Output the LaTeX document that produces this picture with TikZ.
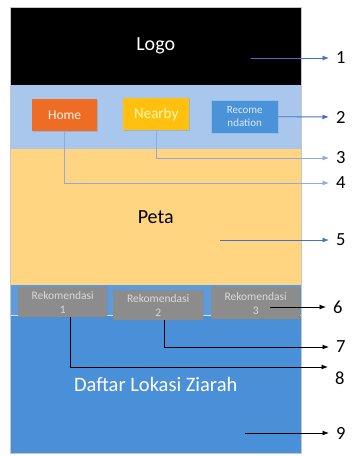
\documentclass[tikz,border=0pt]{standalone}
\usepackage{fontspec}
\setmainfont{Carlito}
\usetikzlibrary{shadows,arrows.meta}
\definecolor{navband}{HTML}{A9C7EC}
\definecolor{mapfill}{HTML}{FFD581}
\definecolor{listblue}{HTML}{4A90D9}
\definecolor{homeorange}{HTML}{EF6C25}
\definecolor{nearbyyellow}{HTML}{FFC010}
\definecolor{recblue}{HTML}{4B93D8}
\definecolor{tabgrey}{HTML}{8C8C8C}
\definecolor{darkarrow}{HTML}{4472C4}
\definecolor{lightarrow}{HTML}{8FAADC}
\begin{document}
\begin{tikzpicture}[x=1pt,y=-1pt,
  panel/.style={rectangle, inner sep=0pt, anchor=north west},
  btn/.style={rectangle, inner sep=0pt, anchor=north west,
    drop shadow={opacity=0.3, shadow xshift=0.8pt, shadow yshift=-1.2pt}},
  tab/.style={btn, fill=tabgrey, text=white!85!black, align=center,
    minimum height=30pt, font=\fontsize{11.5}{14}\selectfont},
  callout/.style={-{Latex[length=6.5pt,width=5pt]}, line width=0.9pt, shorten >=7pt},
  num/.style={anchor=west, inner sep=0pt, font=\fontsize{18.5}{18}\selectfont}]
\fill[white] (0,0) rectangle (357,456);
\useasboundingbox (0,0) rectangle (357,456);

% screen regions
\node[panel, fill=black, minimum width=291pt, minimum height=78pt, text=white,
  font=\fontsize{20}{24}\selectfont] (logo) at (10,7) {Logo};
\node[panel, fill=navband, minimum width=291pt, minimum height=64pt] (nav) at (10,85) {};
\node[panel, fill=mapfill, minimum width=291pt, minimum height=136pt,
  font=\fontsize{20}{24}\selectfont] (peta) at (10,149) {\raisebox{-3pt}{Peta}};
\node[panel, fill=listblue!90!white, minimum width=291pt, minimum height=30pt] (tabband) at (10,285) {};
\node[panel, fill=listblue, minimum width=291pt, minimum height=138pt, text=white,
  font=\fontsize{20.5}{24}\selectfont] (daftar) at (10,315) {\raisebox{-4pt}{Daftar Lokasi Ziarah}};
\draw[white!75!listblue, line width=1pt] (tabband.south west) -- (tabband.south east);
\draw[gray!45, line width=0.6pt] (logo.north west) rectangle (daftar.south east);

% navigation buttons
\node[btn, fill=homeorange, text=white!92!orange, minimum width=65pt, minimum height=32pt,
  font=\fontsize{13.5}{16}\selectfont] (home) at (32,99) {Home};
\node[btn, fill=nearbyyellow, text=yellow!30!white, minimum width=66pt, minimum height=32pt,
  font=\fontsize{15}{18}\selectfont] (nearby) at (123,98) {Nearby};
\node[btn, fill=recblue, draw=recblue!60!white, text=white!80!recblue, minimum width=67pt,
  minimum height=33pt, align=center, font=\fontsize{11}{13}\selectfont] (rec) at (211,100) {Recome\\ndation};

% recommendation tabs
\node[tab, minimum width=89pt] (rek1) at (18,287) {Rekomendasi\\1};
\node[tab, minimum width=90pt] (rek2) at (113,290) {Rekomendasi\\2};
\node[tab, minimum width=89pt, minimum height=32pt] (rek3) at (211,287) {Rekomendasi\\3};

% callout numbers
\node[num] (l1) at (336,58) {1};
\node[num] (l2) at (336,117) {2};
\node[num] (l3) at (336,158) {3};
\node[num] (l4) at (336,183) {4};
\node[num] (l5) at (336,240) {5};
\node[num] (l6) at (333,307) {6};
\node[num] (l7) at (336,347) {7};
\node[num] (l8) at (335,378) {8};
\node[num] (l9) at (336,433) {9};

% callout start and end points
\coordinate (s1) at (251,58);
\coordinate (s5) at (220,240);
\coordinate (s6) at (270,307);
\coordinate (s9) at (245,433);
\coordinate (a8) at (335,367);

% callout arrows
\draw[callout, darkarrow] (s1) -- (l1.west);
\draw[callout, darkarrow] (rec.east) -- (l2.west);
\draw[callout, lightarrow] (nearby.south) |- (l3.west);
\draw[callout, lightarrow] (home.south) |- (l4.west);
\draw[callout, darkarrow] (s5) -- (l5.west);
\draw[callout, black] (s6) -- (l6.west);
\draw[callout, black] ([xshift=6pt]rek2.south) |- (l7.west);
\draw[callout, black] ([xshift=7.5pt]rek1.south) |- (a8);
\draw[callout, black] (s9) -- (l9.west);
\end{tikzpicture}
\end{document}
